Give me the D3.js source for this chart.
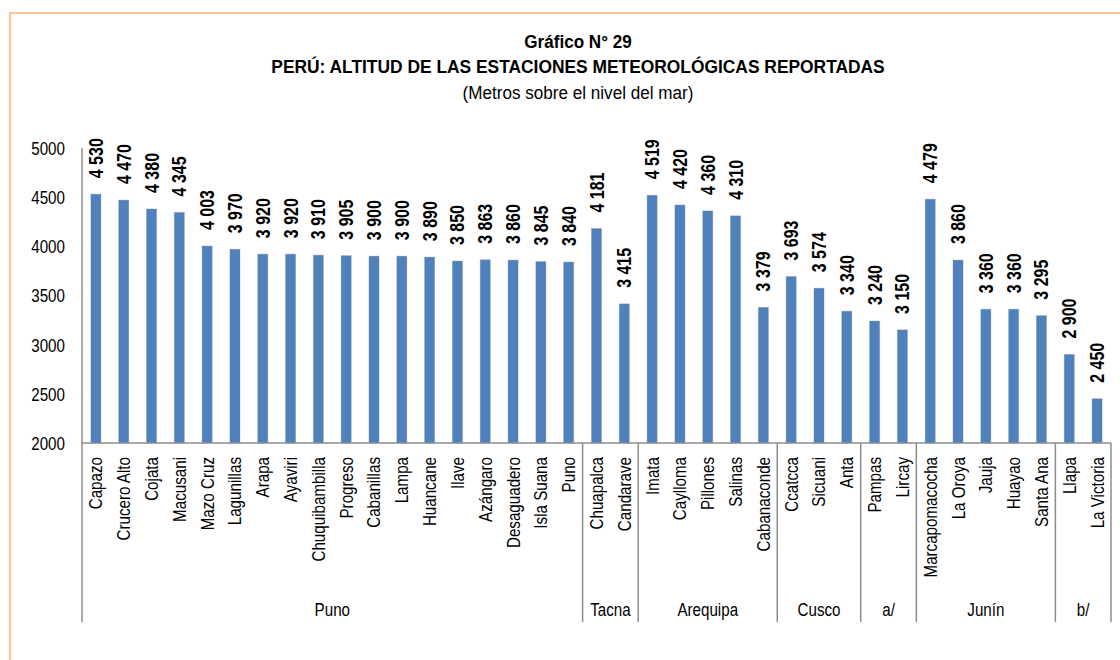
<!DOCTYPE html>
<html>
<head>
<meta charset="utf-8">
<script src="https://cdn.jsdelivr.net/npm/d3@7"></script>
<style>
  html, body { margin: 0; padding: 0; background: #fff; }
  svg { display: block; }
  text { font-family: "Liberation Sans", Arial, sans-serif; fill: #000; }
</style>
</head>
<body>
<svg id="chart" width="1120" height="660"></svg>
<script>
// Estaciones meteorológicas por departamento
const puno = ["Capazo","Crucero Alto","Cojata","Macusani","Mazo Cruz","Lagunillas","Arapa","Ayaviri","Chuquibambilla","Progreso","Cabanillas","Lampa","Huancane","Ilave","Azángaro","Desaguadero","Isla Suana","Puno"];
const punoAlt = [4530,4470,4380,4345,4003,3970,3920,3920,3910,3905,3900,3900,3890,3850,3863,3860,3845,3840];
const tacna = ["Chuapalca","Candarave"];
const tacnaAlt = [4181,3415];
const arequipa = ["Imata","Caylloma","Pillones","Salinas","Cabanaconde"];
const arequipaAlt = [4519,4420,4360,4310,3379];
const cusco = ["Ccatcca","Sicuani","Anta"];
const cuscoAlt = [3693,3574,3340];
const grupoA = ["Pampas","Lircay"];
const grupoAAlt = [3240,3150];
const junin = ["Marcapomacocha","La Oroya","Jauja","Huayao","Santa Ana"];
const juninAlt = [4479,3860,3360,3360,3295];
const grupoB = ["Llapa","La Victoria"];
const grupoBAlt = [2900,2450];

const groupNames = ["Puno","Tacna","Arequipa","Cusco","a/","Junín","b/"];
const yTicks = [2000,2500,3000,3500,4000,4500,5000];

const groups = [
  [puno, punoAlt], [tacna, tacnaAlt], [arequipa, arequipaAlt], [cusco, cuscoAlt],
  [grupoA, grupoAAlt], [junin, juninAlt], [grupoB, grupoBAlt]
].map((g, i) => ({ name: groupNames[i], stations: g[0], values: g[1] }));

const rows = [];
groups.forEach((g, gi) => g.stations.forEach((s, i) => rows.push({ key: gi + "|" + s, station: s, value: g.values[i], group: gi })));

// Tipografía estrecha: Liberation Sans comprimida horizontalmente
const NARROW = "scale(0.82,1)";

const svg = d3.select("#chart");

// Marco exterior
svg.append("rect")
  .attr("x", 10).attr("y", 13).attr("width", 1300).attr("height", 800)
  .attr("fill", "none").attr("stroke", "#fbc49b").attr("stroke-width", 2);

// Títulos
const cx = 578;
const titles = [
  { text: "Gráfico N° 29", y: 48, bold: true, sx: 0.9 },
  { text: "PERÚ: ALTITUD DE LAS ESTACIONES METEOROLÓGICAS REPORTADAS", y: 73, bold: true, sx: 0.915 },
  { text: "(Metros sobre el nivel del mar)", y: 99, bold: false, sx: 0.9 }
];
svg.append("g").selectAll("text").data(titles).join("text")
  .attr("transform", d => `translate(${cx},${d.y}) scale(${d.sx},1)`)
  .attr("text-anchor", "middle")
  .style("font-size", "19px")
  .style("font-weight", d => d.bold ? "bold" : "normal")
  .text(d => d.text);

const plotLeft = 82, plotRight = 1111, plotTop = 148, plotBottom = 443, groupBottom = 622;

const x = d3.scaleBand().domain(rows.map(d => d.key)).range([plotLeft, plotRight]).paddingInner(0.64).paddingOuter(0.32);
const y = d3.scaleLinear().domain([2000, 5000]).range([plotBottom, plotTop]);

// Eje Y (solo etiquetas)
const yAxis = d3.axisLeft(y).tickValues(yTicks).tickSize(0).tickPadding(0).tickFormat(d3.format("d"));
const gy = svg.append("g").attr("transform", `translate(${plotLeft - 17},0)`).call(yAxis);
gy.select(".domain").remove();
gy.selectAll(".tick text")
  .attr("x", null).attr("dy", "0.35em")
  .attr("transform", NARROW)
  .style("font-size", "18.5px").style("font-family", null);

// Barras
svg.append("g").selectAll("rect").data(rows).join("rect")
  .attr("x", d => x(d.key)).attr("width", x.bandwidth())
  .attr("y", d => y(d.value)).attr("height", d => y(2000) - y(d.value))
  .attr("fill", "#4f81bd")
  .attr("stroke", "rgba(120,130,140,0.35)").attr("stroke-width", 1);

// Etiquetas de valor
const fmt = v => d3.format(",")(v).replace(",", " ");
svg.append("g").selectAll("text").data(rows).join("text")
  .attr("transform", d => `translate(${x(d.key) + x.bandwidth() / 2},${y(d.value) - 16}) rotate(-90) ${NARROW}`)
  .attr("dy", "0.36em")
  .style("font-size", "19.5px").style("font-weight", "bold")
  .text(d => fmt(d.value));

// Nombres de estaciones
svg.append("g").selectAll("text").data(rows).join("text")
  .attr("transform", d => `translate(${x(d.key) + x.bandwidth() / 2},457) rotate(-90) ${NARROW}`)
  .attr("dy", "0.35em").attr("text-anchor", "end")
  .style("font-size", "18.5px")
  .text(d => d.station);

// Líneas de eje y separadores de grupo
const axisColor = "#8c8c8c";
svg.append("line").attr("x1", plotLeft).attr("x2", plotLeft).attr("y1", plotTop).attr("y2", groupBottom)
  .attr("stroke", axisColor).attr("stroke-width", 1.5);
svg.append("line").attr("x1", plotLeft).attr("x2", plotRight).attr("y1", plotBottom).attr("y2", plotBottom)
  .attr("stroke", axisColor).attr("stroke-width", 1.5);

const step = x.step();
let idx = 0;
const bounds = groups.map(g => {
  const start = plotLeft + idx * step;
  idx += g.stations.length;
  return { name: g.name, start, end: plotLeft + idx * step };
});
svg.append("g").selectAll("line").data(bounds).join("line")
  .attr("x1", d => d.end).attr("x2", d => d.end)
  .attr("y1", plotBottom).attr("y2", groupBottom)
  .attr("stroke", axisColor).attr("stroke-width", 1.5);

svg.append("g").selectAll("text").data(bounds).join("text")
  .attr("transform", d => `translate(${(d.start + d.end) / 2},616) ${NARROW}`)
  .attr("text-anchor", "middle").style("font-size", "18.5px")
  .text(d => d.name);
</script>
</body>
</html>
